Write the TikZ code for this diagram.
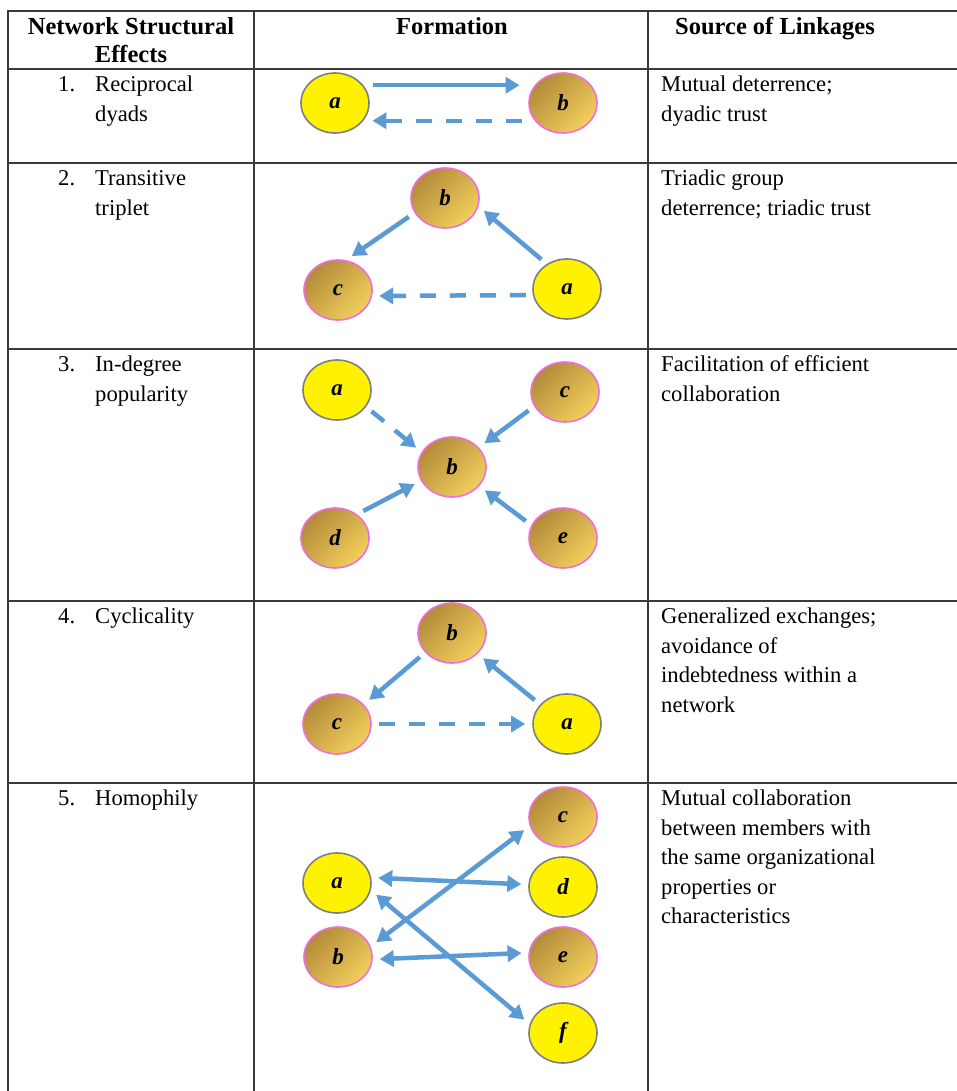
\documentclass[tikz,border=0pt]{standalone}
\usepackage{fontspec}
\setmainfont{Liberation Serif}
\usetikzlibrary{arrows.meta,shapes.geometric}

\definecolor{linkblue}{HTML}{5B9BD5}
\definecolor{goldlo}{HTML}{B38B3A}
\definecolor{goldhi}{HTML}{F2CF5C}
\definecolor{rimpink}{HTML}{EE6FDC}
\definecolor{rimgray}{HTML}{7F7F7F}
\definecolor{rulegray}{HTML}{3A3A3A}

\newcommand{\bodyfont}{\fontsize{22.6}{29.5}\selectfont}
\newcommand{\headfont}{\fontsize{24.5}{28}\selectfont\bfseries}

\tikzset{
    actor/.style={ellipse, minimum width=68pt, minimum height=60pt, inner sep=0pt, line width=1.6pt,
        font=\fontsize{23}{23}\selectfont\bfseries\itshape},
    yel/.style={actor, fill=yellow, draw=rimgray},
    gld/.style={actor, draw=rimpink, top color=goldlo, bottom color=goldhi, shading angle=45},
    link/.style={draw=linkblue, line width=4.5pt, -{Triangle[length=14pt,width=16pt]},
        shorten <=7pt, shorten >=7pt},
    dlink/.style={link, dash pattern=on 16pt off 14pt},
    both/.style={link, {Triangle[length=14pt,width=16pt]}-{Triangle[length=14pt,width=16pt]}},
    txt/.style={anchor=north west, inner sep=0pt, align=left, font=\bodyfont},
    head/.style={anchor=north, inner sep=0pt, align=center, font=\headfont}
}

\begin{document}
\begin{tikzpicture}[x=1pt, y=1pt]
    \fill[white] (0,0) rectangle (957,-1091);
    \useasboundingbox (0,0) rectangle (957,-1091);

    % table rules
    \draw[rulegray, line width=1.5pt] (957,-11) -- (8,-11) -- (8,-1091);
    \draw[rulegray, line width=1.2pt] (254,-11) -- (254,-1091) (648,-11) -- (648,-1091);
    \foreach \y in {69,163,349,601,783}
        \draw[rulegray, line width=1.2pt] (8,-\y) -- (957,-\y);

    \node[head] (hnet) at (131,-15) {\strut Network Structural\\Effects};
    \node[head] (hform) at (452,-15) {\strut Formation};
    \node[head, anchor=north west] (hsrc) at (675,-15) {\strut Source of Linkages};

    \node[txt] (n1) at (58,-71) {\strut 1.};
    \node[txt] (e1) at (95,-71) {\strut Reciprocal\\dyads};
    \node[txt] (s1) at (661,-71) {\strut Mutual deterrence;\\dyadic trust};
    \node[txt] (n2) at (58,-165) {\strut 2.};
    \node[txt] (e2) at (95,-165) {\strut Transitive\\triplet};
    \node[txt] (s2) at (661,-165) {\strut Triadic group\\deterrence; triadic trust};
    \node[txt] (n3) at (58,-351) {\strut 3.};
    \node[txt] (e3) at (95,-351) {\strut In-degree\\popularity};
    \node[txt] (s3) at (661,-351) {\strut Facilitation of efficient\\collaboration};
    \node[txt] (n4) at (58,-603) {\strut 4.};
    \node[txt] (e4) at (95,-603) {\strut Cyclicality};
    \node[txt] (s4) at (661,-603) {\strut Generalized exchanges;\\avoidance of\\indebtedness within a\\network};
    \node[txt] (n5) at (58,-785) {\strut 5.};
    \node[txt] (e5) at (95,-785) {\strut Homophily};
    \node[txt] (s5) at (661,-785) {\strut Mutual collaboration\\between members with\\the same organizational\\properties or\\characteristics};

    % 1. reciprocal dyads
    \node[yel] (ra) at (335,-103) {a};
    \node[gld] (rb) at (563,-103) {b};
    \draw[link, shorten <=10pt, shorten >=15pt] (ra.32) -- (rb.148);
    \draw[dlink, shorten <=13pt, shorten >=9pt] (rb.212) -- (ra.-32);

    % 2. transitive triplet
    \node[gld] (tb) at (445,-198) {b};
    \node[gld] (tc) at (338,-290) {c};
    \node[yel] (ta) at (567,-289) {a};
    \draw[link] (tb.206) -- (tc.75);
    \draw[link] (ta.129) -- (tb.-14);
    \draw[dlink] (ta.190) -- (tc.-10);

    % 3. in-degree popularity
    \node[yel] (pa) at (337,-390) {a};
    \node[gld] (pc) at (565,-392) {c};
    \node[gld] (pb) at (452,-467) {b};
    \node[gld] (pd) at (335,-538) {d};
    \node[gld] (pe) at (563,-538) {e};
    \draw[dlink] (pa.-30) -- (pb.154);
    \draw[link] (pc.205) -- (pb.36);
    \draw[link] (pd.47) -- (pb.204);
    \draw[link] (pe.158) -- (pb.-35);

    % 4. cyclicality
    \node[gld] (cb) at (452,-633) {b};
    \node[gld] (cc) at (337,-724) {c};
    \node[yel] (ca) at (567,-724) {a};
    \draw[link] (cb.216) -- (cc.36);
    \draw[link] (ca.144) -- (cb.-39);
    \draw[dlink] (cc.0) -- (ca.180);

    % 5. homophily
    \node[yel] (ha) at (337,-883) {a};
    \node[gld] (hb) at (338,-957) {b};
    \node[gld] (hc) at (563,-817) {c};
    \node[yel] (hd) at (563,-887) {d};
    \node[gld] (he) at (563,-957) {e};
    \node[yel] (hf) at (563,-1033) {f};
    \draw[both] (ha.9) -- (hd.176);
    \draw[both] (hb.18) -- (hc.195);
    \draw[both] (ha.-12) -- (hf.165);
    \draw[both] (hb.-4) -- (he.173);
\end{tikzpicture}
\end{document}
